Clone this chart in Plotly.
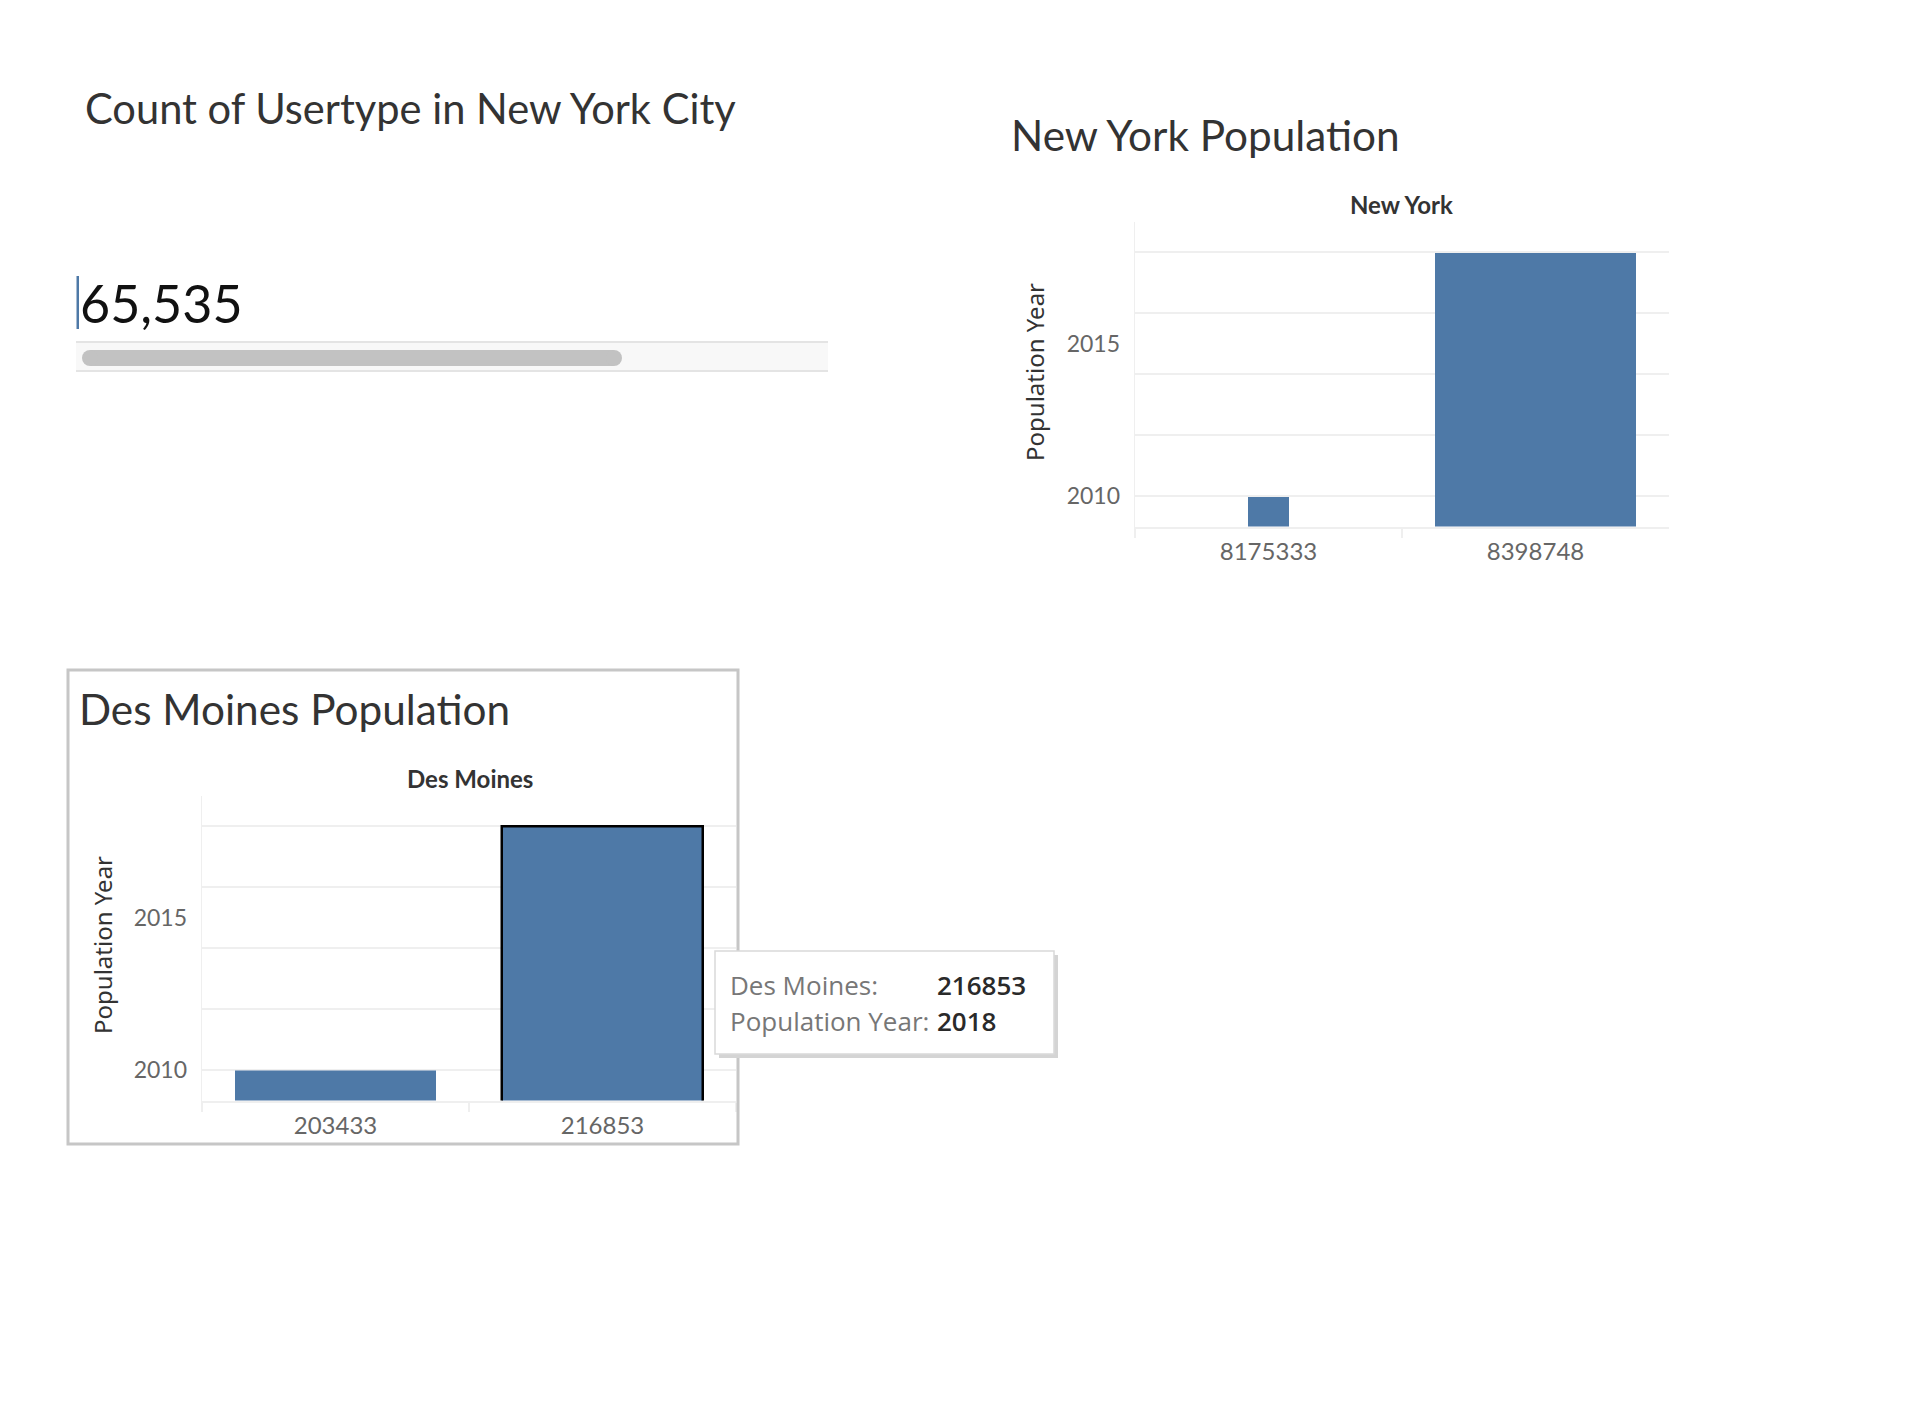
import plotly.graph_objects as go

# ---------------- data ----------------
usertype_count = 65535
ny_population = ["8175333", "8398748"]
ny_year = [2010, 2018]
dm_population = ["203433", "216853"]
dm_year = [2010, 2018]
year_grid = [2010, 2012, 2014, 2016, 2018]
year_labels = [2010, 2015]
year_range = [2009, 2019]

# ---------------- styles ----------------
W, H = 1924, 1402
BLUE = "#4e79a7"
GRID = "#efefef"
TXT = "#333333"
TICK = "#666666"
TFONT = "Lato"
ny_widths = [0.15, 0.75]
dm_widths = [0.75, 0.75]


def px(x):
    return x / W


def py(y):
    return 1 - y / H


fig = go.Figure()

# New York bars
fig.add_trace(go.Bar(x=ny_population, y=ny_year, width=ny_widths, marker=dict(color=BLUE, line=dict(width=0)),
                     xaxis="x", yaxis="y", showlegend=False, hoverinfo="skip"))
fig.add_trace(go.Scatter(x=ny_population, y=[None, None], xaxis="x", yaxis="y3", showlegend=False,
                         hoverinfo="skip", mode="markers"))
# Des Moines bars
fig.add_trace(go.Bar(x=dm_population, y=dm_year, width=dm_widths,
                     marker=dict(color=BLUE, line=dict(width=[0, 2.5], color="black")),
                     xaxis="x2", yaxis="y2", showlegend=False, hoverinfo="skip"))
fig.add_trace(go.Scatter(x=dm_population, y=[None, None], xaxis="x2", yaxis="y4", showlegend=False,
                         hoverinfo="skip", mode="markers"))

xcommon = dict(type="category", showgrid=False, showline=True, linecolor=GRID, linewidth=2,
               ticks="outside", tickson="boundaries", ticklen=9, tickcolor=GRID, tickwidth=2,
               ticklabelstandoff=3,
               tickfont=dict(family=TFONT, size=24, color=TICK), fixedrange=True, zeroline=False)
ygrid = dict(range=year_range, tickvals=year_grid, showticklabels=False, showgrid=True, gridcolor=GRID,
             gridwidth=2, showline=True, linecolor=GRID, linewidth=1, ticks="", zeroline=False)
ylab = dict(range=year_range, tickvals=year_labels, showgrid=False, showline=False, ticks="",
            zeroline=False, tickfont=dict(family=TFONT, size=23, color=TICK), ticklabelstandoff=14)

fig.update_layout(
    width=W, height=H, margin=dict(l=0, r=0, t=0, b=0),
    paper_bgcolor="white", plot_bgcolor="white", bargap=0,
    xaxis=dict(domain=[px(1135), px(1669)], anchor="y", **xcommon),
    yaxis=dict(domain=[py(526.5), py(221.5)], anchor="x", **ygrid),
    yaxis3=dict(overlaying="y", anchor="x", side="left", **ylab),
    xaxis2=dict(domain=[px(202), px(736)], anchor="y2", **xcommon),
    yaxis2=dict(domain=[py(1100.5), py(795.5)], anchor="x2", **ygrid),
    yaxis4=dict(overlaying="y2", anchor="x2", side="left", **ylab),
)

shapes = []
# KPI accent line
shapes.append(dict(type="rect", xref="paper", yref="paper", x0=px(76.5), x1=px(79), y0=py(329), y1=py(276),
                   fillcolor=BLUE, line=dict(width=0)))
# scrollbar
shapes.append(dict(type="rect", xref="paper", yref="paper", x0=px(76), x1=px(828), y0=py(371), y1=py(342),
                   fillcolor="#f8f8f8", line=dict(width=0)))
for yy in (342, 371):
    shapes.append(dict(type="line", xref="paper", yref="paper", x0=px(76), x1=px(828), y0=py(yy), y1=py(yy),
                       line=dict(color="#e4e4e4", width=2)))
shapes.append(dict(type="rect", xref="paper", yref="paper", x0=px(90), x1=px(614), y0=py(366), y1=py(350),
                   fillcolor="#c2c2c2", line=dict(width=0)))
for cx in (90, 614):
    shapes.append(dict(type="circle", xref="paper", yref="paper", x0=px(cx - 8), x1=px(cx + 8),
                       y0=py(366), y1=py(350), fillcolor="#c2c2c2", line=dict(width=0)))
# Des Moines frame
shapes.append(dict(type="rect", xref="paper", yref="paper", x0=px(68), x1=px(738), y0=py(1144), y1=py(670),
                   fillcolor="rgba(0,0,0,0)", line=dict(color="#c6c6c6", width=3)))
# tooltip shadow + box
shapes.append(dict(type="rect", xref="paper", yref="paper", x0=px(719), x1=px(1058), y0=py(1058), y1=py(955),
                   fillcolor="#d4d4d4", line=dict(width=0), layer="above"))
shapes.append(dict(type="rect", xref="paper", yref="paper", x0=px(715), x1=px(1054), y0=py(1054), y1=py(951),
                   fillcolor="white", line=dict(color="#d9d9d9", width=1.5), layer="above"))

annotations = []


def txt(x, y, s, size, color=TXT, family=TFONT, xanchor="left", weight="normal", angle=0):
    annotations.append(dict(x=px(x), y=py(y), xref="paper", yref="paper", text=s, showarrow=False,
                            xanchor=xanchor, yanchor="middle", textangle=angle,
                            font=dict(family=family, size=size, color=color, weight=weight)))


txt(83, 108, "Count of Usertype in New York City", 41.6)
txt(78, 303, f"{usertype_count:,}", 52, color="#111111")
txt(1009, 134, "New York Population", 42.3)
txt(1401, 204, "New York", 24, weight="bold", xanchor="center")
txt(1034, 372, "Population Year", 24, family="Noto Sans", xanchor="center", angle=-90)
txt(77, 708, "Des Moines Population", 42.3)
txt(470, 778, "Des Moines", 24, weight="bold", xanchor="center")
txt(103, 945, "Population Year", 24, family="Noto Sans", xanchor="center", angle=-90)
# tooltip
txt(728, 985, "Des Moines:", 26, color="#777777", family="Open Sans")
txt(728, 1021, "Population Year:", 26, color="#777777", family="Open Sans")
txt(935, 985, dm_population[1], 26, color="#2a2a2a", family="Open Sans", weight=600)
txt(935, 1021, str(dm_year[1]), 26, color="#2a2a2a", family="Open Sans", weight=600)

fig.update_layout(shapes=shapes, annotations=annotations)
fig.write_html("out.html")
